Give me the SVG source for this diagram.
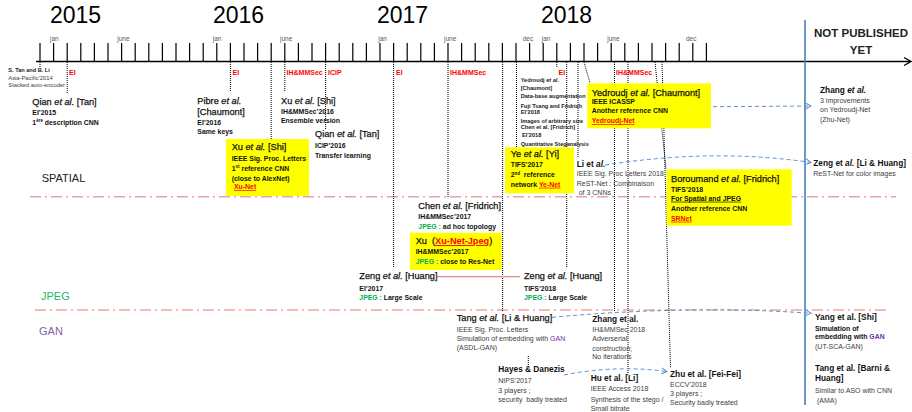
<svg xmlns="http://www.w3.org/2000/svg" width="912" height="412" viewBox="0 0 912 412">
<defs>
<style>
text{font-family:"Liberation Sans",Arial,sans-serif;}
.yr{font-size:23px;fill:#000}
.mo{font-size:6.5px;fill:#595959}
.ev{font-size:7px;font-weight:bold;fill:#FF0000}
.cat{font-size:11px}
.t{font-size:9.2px;fill:#111;stroke:#111;stroke-width:0.25}
.tb{font-size:8.3px;font-weight:bold;fill:#111}
.d{font-size:6.9px;font-weight:bold;fill:#111}
.g{font-size:7px;fill:#404040}
.tiny{font-size:5.6px;font-weight:bold;fill:#222}
.tinyg{font-size:5.8px;fill:#404040}
.i{font-style:italic}
.jp{fill:#00B050;stroke:none}
.gan{fill:#7030A0}
.rl{fill:#FF0000;stroke:none;font-weight:bold;text-decoration:underline}
.ul{text-decoration:underline}
.box{fill:#FFFF00}
.dot{stroke:#000;stroke-width:1;stroke-dasharray:1 1;fill:none}
.blu{stroke:#5B8FD0;stroke-width:1;stroke-dasharray:4 3;fill:none}
.sep{stroke-width:1.4;stroke-dasharray:11 4 2 4;fill:none}
.tick{stroke:#000;stroke-width:1.2;fill:none}
</style>
<marker id="ah" markerWidth="8" markerHeight="8" refX="6" refY="3.5" orient="auto" markerUnits="userSpaceOnUse">
<path d="M0.5,0.5 L6,3.5 L0.5,6.5" fill="none" stroke="#5B8FD0" stroke-width="1"/>
</marker>
</defs>
<rect width="912" height="412" fill="#fff"/>

<g id="timeline">
<text class="yr" x="50" y="23">2015</text>
<text class="yr" x="213" y="23">2016</text>
<text class="yr" x="377" y="23">2017</text>
<text class="yr" x="541" y="23">2018</text>
<text class="mo" x="50" y="40.5">jan</text>
<text class="mo" x="117.3" y="40.5">june</text>
<text class="mo" x="212.7" y="40.5">jan</text>
<text class="mo" x="280" y="40.5">june</text>
<text class="mo" x="378.3" y="40.5">jan</text>
<text class="mo" x="444" y="40.5">june</text>
<text class="mo" x="522.7" y="40.5">dec</text>
<text class="mo" x="541.7" y="40.5">jan</text>
<text class="mo" x="607.3" y="40.5">june</text>
<text class="mo" x="686" y="40.5">dec</text>
<path class="tick" d="M40,43V61M53.6,43V61M67.2,43V61M80.8,43V61M94.4,43V61M108,43V61M121.6,43V61M135.2,43V61M148.8,43V61M162.4,43V61M176,43V61M189.6,43V61M203.2,43V61M216.8,43V61M230.4,43V61M244,43V61M257.6,43V61M271.2,43V61M284.8,43V61M298.4,43V61M312,43V61M325.6,43V61M339.2,43V61M352.8,43V61M366.4,43V61M380,43V61M393.6,43V61M407.2,43V61M420.8,43V61M434.4,43V61M448,43V61M461.6,43V61M475.2,43V61M488.8,43V61M502.4,43V61M516,43V61M529.6,43V61M543.2,43V61M556.8,43V61M570.4,43V61M584,43V61M597.6,43V61M611.2,43V61M624.8,43V61M638.4,43V61M652,43V61M665.6,43V61M679.2,43V61M692.8,43V61M706.4,43V61"/>
<line x1="36" y1="61.5" x2="910" y2="61.5" stroke="#000" stroke-width="1.5"/>
<path d="M904,57.5 L911,61.5 L904,65.5" stroke="#000" stroke-width="1.3" fill="none"/>
<text class="ev" x="69" y="75">EI</text>
<text class="ev" x="232.5" y="75">EI</text>
<text class="ev" x="286.5" y="75">IH&amp;MMSec</text>
<text class="ev" x="328" y="75">ICIP</text>
<text class="ev" x="396" y="75">EI</text>
<text class="ev" x="450" y="75">IH&amp;MMSec</text>
<text class="ev" x="558.5" y="75">EI</text>
<text class="ev" x="616" y="75">IH&amp;MMSec</text>
<line x1="805" y1="20" x2="805" y2="405" stroke="#4A7EBB" stroke-width="1.6"/>
<text x="861" y="36.7" text-anchor="middle" font-size="11.5" font-weight="bold" fill="#222">NOT PUBLISHED</text>
<text x="861" y="54" text-anchor="middle" font-size="11.5" font-weight="bold" fill="#222">YET</text>
</g>

<g id="categories">
<line class="sep" x1="30" y1="196.7" x2="896" y2="196.7" stroke="#E2A6A6"/>
<line class="sep" x1="35" y1="310" x2="888" y2="310" stroke="#F0A89E"/>
<text class="cat" x="41.7" y="181.7" fill="#222">SPATIAL</text>
<text class="cat" x="41" y="300" fill="#2DB563">JPEG</text>
<text class="cat" x="39" y="335" fill="#8064A2">GAN</text>
</g>

<g id="connectors">
<path class="dot" d="M40,62V67"/>
<path class="dot" d="M67.2,62V93"/>
<path class="dot" d="M230.4,62V92"/>
<path class="dot" d="M271.2,62V139"/>
<path class="dot" d="M284.8,62V92"/>
<path class="dot" d="M325.6,62V129"/>
<path class="dot" d="M393.6,62V268"/>
<path class="dot" d="M448,62V198"/>
<path class="dot" d="M502.6,62V311"/>
<path class="dot" d="M516.5,62V147"/>
<path class="dot" d="M556.8,62V67"/>
<path class="dot" d="M566.7,62V268"/>
<path class="dot" d="M578,62V158"/>
<path class="dot" d="M584,62L590,83"/>
<path class="dot" d="M614.5,62V312"/>
<path class="dot" d="M628,62V373"/>
<path class="dot" d="M655,62L666,169"/>
<path class="dot" d="M662,62L670.5,368"/>
<path class="dot" d="M528.3,356V365"/>
<line x1="437" y1="276.7" x2="520" y2="276.7" stroke="#E88A8A" stroke-width="1.2"/>
<path class="blu" d="M713,106.7 L811,106" marker-end="url(#ah)"/>
<path class="blu" d="M605,165 Q715,148 811,162.5" marker-end="url(#ah)"/>
<path class="blu" d="M552,317.3 Q690,304.7 811,313.3" marker-end="url(#ah)"/>
<path class="blu" d="M564,375 Q615,364.7 667,371.5" marker-end="url(#ah)"/>
</g>

<g id="n-tanli">
<text class="tiny" x="8.3" y="71.7">S. Tan and B. Li</text>
<text class="tinyg" x="8.3" y="80">Asia-Pacific’2014</text>
<text class="tinyg" x="8.3" y="87.3">Stacked auto-encoder</text>
</g>

<g id="n-qian2015">
<text class="t" x="32.3" y="105">Qian <tspan class="i">et al.</tspan> [Tan]</text>
<text class="d" x="32.3" y="115">EI’2015</text>
<text class="d" x="32.3" y="124.5">1<tspan dy="-2.5" font-size="4.5">ère</tspan><tspan dy="2.5"> description CNN</tspan></text>
</g>

<g id="n-pibre">
<text class="t" x="197.3" y="104">Pibre <tspan class="i">et al.</tspan></text>
<text class="t" x="197.3" y="115">[Chaumont]</text>
<text class="d" x="197.3" y="125">EI’2016</text>
<text class="d" x="197.3" y="134">Same keys</text>
</g>

<g id="n-xu2016">
<text class="t" x="281" y="104">Xu <tspan class="i">et al.</tspan> [Shi]</text>
<text class="d" x="281" y="114">IH&amp;MMSec’2016</text>
<text class="d" x="281" y="123">Ensemble version</text>
</g>

<g id="n-xunet">
<rect class="box" x="226" y="139" width="83" height="57"/>
<text class="t" x="231.7" y="150">Xu <tspan class="i">et al.</tspan> [Shi]</text>
<text class="d" x="231.7" y="160.7">IEEE Sig. Proc. Letters</text>
<text class="d" x="231.7" y="170.7">1<tspan dy="-2.5" font-size="4.5">st</tspan><tspan dy="2.5"> reference CNN</tspan></text>
<text class="d" x="231.7" y="180.7">(close to AlexNet)</text>
<text class="d rl" x="234" y="189.3">Xu-Net</text>
</g>

<g id="n-qian2016">
<text class="t" x="315" y="137">Qian <tspan class="i">et al.</tspan> [Tan]</text>
<text class="d" x="315" y="148">ICIP’2016</text>
<text class="d" x="315" y="158">Transfer learning</text>
</g>

<g id="n-chen2017">
<text class="t" x="418.3" y="209.3">Chen <tspan class="i">et al.</tspan> [Fridrich]</text>
<text class="d" x="418.3" y="219.3">IH&amp;MMSec’2017</text>
<text class="d" x="418.3" y="229"><tspan class="jp">JPEG :</tspan> ad hoc topology</text>
</g>

<g id="n-xunetjpeg">
<rect class="box" x="410" y="232.7" width="91.7" height="37.3"/>
<text class="t" x="415.7" y="244" xml:space="preserve">Xu  (<tspan class="rl">Xu-Net-Jpeg</tspan>)</text>
<text class="d" x="415.7" y="254">IH&amp;MMSec’2017</text>
<text class="d" x="415.7" y="264"><tspan class="jp">JPEG :</tspan> close to Res-Net</text>
</g>

<g id="n-zeng2017">
<text class="t" x="359.3" y="279.3">Zeng <tspan class="i">et al.</tspan> [Huang]</text>
<text class="d" x="359.3" y="290.7">EI’2017</text>
<text class="d" x="359.3" y="300"><tspan class="jp">JPEG :</tspan> Large Scale</text>
</g>

<g id="n-zeng2018">
<text class="t" x="524" y="279.3">Zeng <tspan class="i">et al.</tspan> [Huang]</text>
<text class="d" x="524" y="290.7">TIFS’2018</text>
<text class="d" x="524" y="300"><tspan class="jp">JPEG :</tspan> Large Scale</text>
</g>

<g id="n-tang2018">
<text class="t" x="456.7" y="320.7">Tang <tspan class="i">et al.</tspan> [Li &amp; Huang]</text>
<text class="g" x="456.7" y="331.7">IEEE Sig. Proc. Letters</text>
<text class="g" x="456.7" y="341">Simulation of embedding with <tspan class="gan">GAN</tspan></text>
<text class="g" x="456.7" y="350">(ASDL-GAN)</text>
</g>

<g id="n-hayes">
<text class="tb" x="498.3" y="371.7">Hayes &amp; Danezis</text>
<text class="g" x="498.3" y="382.7">NIPS’2017</text>
<text class="g" x="498.3" y="392.7">3 players ;</text>
<text class="g" x="498.3" y="401.7" xml:space="preserve">security  badly treated</text>
</g>

<g id="n-zhang2018">
<text class="tb" x="592.3" y="321.7">Zhang et al.</text>
<text class="g" x="592.3" y="331.7">IH&amp;MMSec 2018</text>
<text class="g" x="592.3" y="341">Adverserial</text>
<text class="g" x="592.3" y="350.7">construction;</text>
<text class="g" x="592.3" y="359.3">No iterations</text>
</g>

<g id="n-hu">
<text class="tb" x="590.7" y="381">Hu et al. [Li]</text>
<text class="g" x="590.7" y="390.7">IEEE Access 2018</text>
<text class="g" x="590.7" y="401.7">Synthesis of the stego /</text>
<text class="g" x="590.7" y="410.7">Small bitrate</text>
</g>

<g id="n-zhu">
<text class="tb" x="670" y="376.7">Zhu et al. [Fei-Fei]</text>
<text class="g" x="670" y="386.7">ECCV’2018</text>
<text class="g" x="670" y="396">3 players ;</text>
<text class="g" x="670" y="405">Security badly treated</text>
</g>

<g id="n-yang">
<text class="tb" x="815" y="320">Yang et al. [Shi]</text>
<text class="d" x="815" y="330.7">Simulation of</text>
<text class="d" x="815" y="339">embedding with <tspan class="gan">GAN</tspan></text>
<text class="g" x="815" y="349">(UT-SCA-GAN)</text>
</g>

<g id="n-tangbarni">
<text class="tb" x="815" y="370.7">Tang et al. [Barni &amp;</text>
<text class="tb" x="815" y="381">Huang]</text>
<text class="g" x="815" y="392.7">Similar to ASO with CNN</text>
<text class="g" x="817" y="402.7">(AMA)</text>
</g>

<g id="n-zhangtop">
<text class="tb" x="820" y="92.7">Zhang <tspan class="i">et al.</tspan></text>
<text class="g" x="820" y="102.7">3 improvements</text>
<text class="g" x="820" y="112.3">on Yedroudj-Net</text>
<text class="g" x="820" y="122.3">(Zhu-Net)</text>
</g>

<g id="n-zenglihuang">
<text class="tb" x="813.3" y="166">Zeng et <tspan class="i">al.</tspan> [Li &amp; Huang]</text>
<text class="g" x="813.3" y="176">ReST-Net for color images</text>
</g>

<g id="n-li">
<text class="tb" x="576.7" y="166.7">Li et <tspan class="i">al.</tspan></text>
<text class="g" x="576.7" y="175.7">IEEE Sig. Proc Letters 2018</text>
<text class="g" x="576.7" y="185.7">ReST-Net : Combinaison</text>
<text class="g" x="578.7" y="195">of 3 CNNs</text>
</g>

<g id="n-yedroudjtiny">
<text class="tiny" x="520.7" y="81.7">Yedroudj <tspan class="i">et al.</tspan></text>
<text class="tiny" x="520.7" y="90">[Chaumont]</text>
<text class="tiny" x="520.7" y="98.3">Data-base augmentation</text>
<text class="tiny" x="520.7" y="107.7">Fuji Tsang and Fridrich</text>
<text class="tiny" x="520.7" y="114">EI’2018</text>
<text class="tiny" x="520.7" y="122.7">Images of arbitrary size</text>
<text class="tiny" x="520.7" y="129">Chen et al. [Fridrich]</text>
<text class="tiny" x="522" y="137.3">EI’2018</text>
<text class="tiny" x="520.7" y="145.7">Quantitative Steganalysis</text>
</g>

<g id="n-ye">
<rect class="box" x="505" y="147.3" width="69" height="46"/>
<text class="t" x="510.7" y="157.3">Ye <tspan class="i">et al.</tspan> [Yi]</text>
<text class="d" x="510.7" y="167.3">TIFS’2017</text>
<text class="d" x="510.7" y="177.3" xml:space="preserve">2<tspan dy="-2.5" font-size="4.5">nd</tspan><tspan dy="2.5">  reference</tspan></text>
<text class="d" x="510.7" y="186.7">network <tspan class="rl">Ye-Net</tspan></text>
</g>

<g id="n-yedroudj">
<rect class="box" x="587.3" y="83.3" width="123.7" height="45"/>
<text class="t" x="591.7" y="95.7">Yedroudj <tspan class="i">et al.</tspan> [Chaumont]</text>
<text class="d" x="591.7" y="104.3">IEEE ICASSP</text>
<text class="d" x="591.7" y="113.3">Another reference CNN</text>
<text class="d rl" x="591.7" y="123.3">Yedroudj-Net</text>
</g>

<g id="n-boroumand">
<rect class="box" x="666.5" y="169.3" width="125.2" height="56.4"/>
<text class="t" x="671" y="181.7">Boroumand <tspan class="i">et al.</tspan> [Fridrich]</text>
<text class="d" x="671" y="191.7">TIFS’2018</text>
<text class="d ul" x="671" y="200.7">For Spatial and JPEG</text>
<text class="d" x="671" y="210.7">Another reference CNN</text>
<text class="d rl" x="671" y="220.7">SRNet</text>
</g>
</svg>
